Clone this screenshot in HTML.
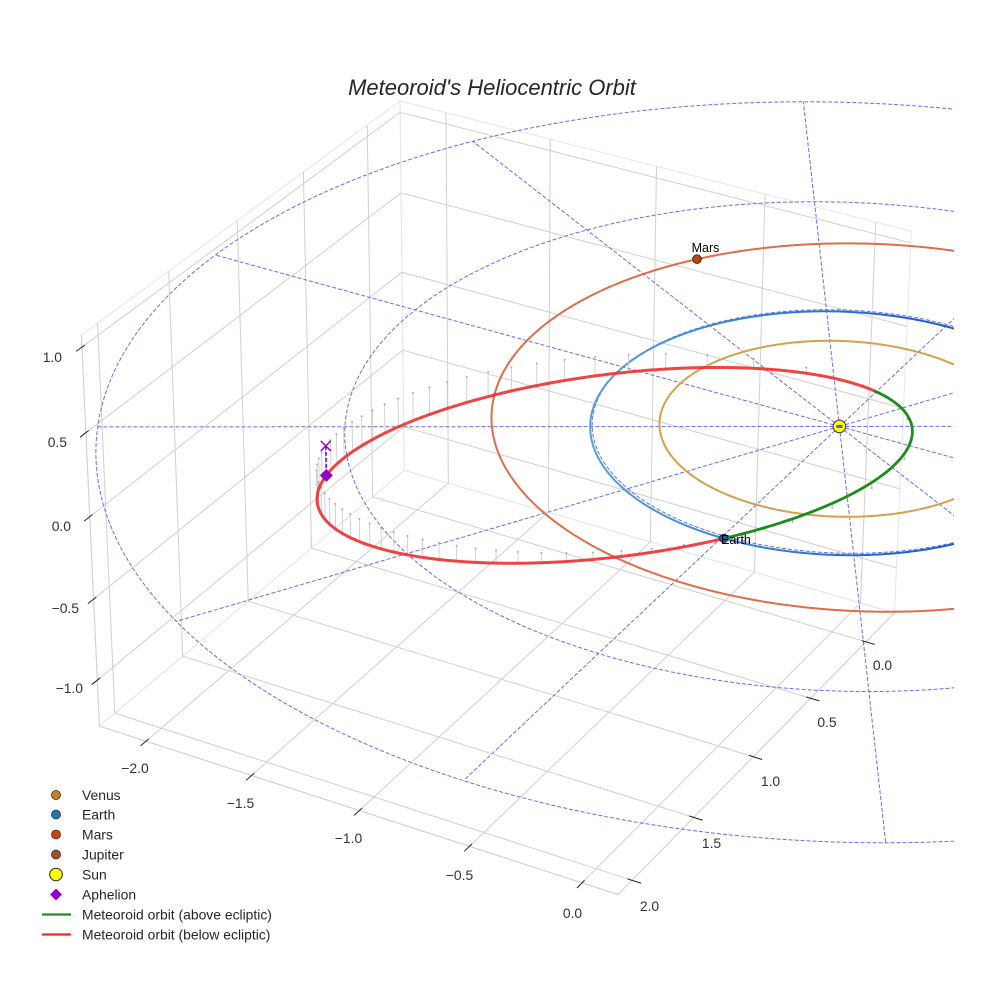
<!DOCTYPE html>
<html><head><meta charset="utf-8">
<style>
html,body{margin:0;padding:0;background:#fff;}
svg{display:block;}
text{font-family:"Liberation Sans",Arial,sans-serif;}
</style></head>
<body>
<svg id="s" width="984" height="984" viewBox="0 0 984 984" xmlns="http://www.w3.org/2000/svg">
<defs>
<clipPath id="c"><rect x="0" y="0" width="954" height="984"/></clipPath>
<linearGradient id="eg" gradientUnits="userSpaceOnUse" x1="590" y1="0" x2="930" y2="0">
<stop offset="0" stop-color="#55a2da"/>
<stop offset="0.6" stop-color="#2f7ad0"/>
<stop offset="1" stop-color="#1d5ccc"/>
</linearGradient>
</defs>
<rect x="0" y="0" width="984" height="984" fill="#fff"/>
<g id="grid"></g>
<g id="plot" clip-path="url(#c)"></g>
<g id="ticks"></g>

<text x="492" y="95" text-anchor="middle" font-size="22" font-style="italic" fill="#262626">Meteoroid's Heliocentric Orbit</text>

<g font-size="13.9" fill="#333">
<text x="62" y="362" text-anchor="end">1.0</text>
<text x="67" y="447" text-anchor="end">0.5</text>
<text x="71" y="531" text-anchor="end">0.0</text>
<text x="79" y="613" text-anchor="end">−0.5</text>
<text x="83" y="693" text-anchor="end">−1.0</text>

<text x="135" y="773" text-anchor="middle">−2.0</text>
<text x="240.5" y="808" text-anchor="middle">−1.5</text>
<text x="348.5" y="843" text-anchor="middle">−1.0</text>
<text x="459.5" y="880" text-anchor="middle">−0.5</text>
<text x="572.5" y="918" text-anchor="middle">0.0</text>

<text x="882.5" y="670" text-anchor="middle">0.0</text>
<text x="827" y="727" text-anchor="middle">0.5</text>
<text x="770.5" y="786" text-anchor="middle">1.0</text>
<text x="711.5" y="848" text-anchor="middle">1.5</text>
<text x="649.5" y="911" text-anchor="middle">2.0</text>
</g>

<g id="labels" font-size="12.5" fill="#000">
<text x="705.5" y="252" text-anchor="middle">Mars</text>
<text x="721" y="544">Earth</text>
</g>

<g id="legend">
<circle cx="56" cy="795" r="4.5" fill="#c8801e" stroke="#333" stroke-width="0.8"/>
<circle cx="56" cy="814.5" r="4.5" fill="#1f77b4" stroke="#333" stroke-width="0.8"/>
<circle cx="56" cy="834.5" r="4.5" fill="#c8441a" stroke="#333" stroke-width="0.8"/>
<circle cx="56" cy="854.5" r="4.5" fill="#a0522d" stroke="#333" stroke-width="0.8"/>
<circle cx="56" cy="874.5" r="6.3" fill="#ffff00" stroke="#222" stroke-width="1"/>
<polygon points="56,888.5 62,894.5 56,900.5 50,894.5" fill="#9400d3"/>
<line x1="42" y1="914.5" x2="71" y2="914.5" stroke="#228b22" stroke-width="2.2"/>
<line x1="42" y1="934.5" x2="71" y2="934.5" stroke="#ee2a2a" stroke-width="2.2"/>
<g font-size="13.9" fill="#262626">
<text x="82" y="800">Venus</text>
<text x="82" y="819.5">Earth</text>
<text x="82" y="839.5">Mars</text>
<text x="82" y="859.5">Jupiter</text>
<text x="82" y="879.5">Sun</text>
<text x="82" y="899.5">Aphelion</text>
<text x="82" y="919.5">Meteoroid orbit (above ecliptic)</text>
<text x="82" y="939.5">Meteoroid orbit (below ecliptic)</text>
</g>
</g>
</svg>
<script>
(function(){
const NS="http://www.w3.org/2000/svg";
const XL=[-2.224,0.158], YL=[2.111,-0.264], ZL=[-1.288,1.069];
const K=1.8294640721620434/Math.sqrt(41);
const BX=4*K, BY=4*K, BZ=3*K;
const RC=[BX/2,BY/2,BZ/2];
const el=30*Math.PI/180, az=-60*Math.PI/180;
const U=[-Math.sin(az),Math.cos(az),0];
const V=[-Math.sin(el)*Math.cos(az),-Math.sin(el)*Math.sin(az),Math.cos(el)];
const W=[Math.cos(el)*Math.cos(az),Math.cos(el)*Math.sin(az),Math.sin(el)];
const SC=5200, CX=504, CY=479.5;
function P(x,y,z){
  const n=[(x-XL[0])/(XL[1]-XL[0])*BX-RC[0],(y-YL[0])/(YL[1]-YL[0])*BY-RC[1],(z-ZL[0])/(ZL[1]-ZL[0])*BZ-RC[2]];
  const u=U[0]*n[0]+U[1]*n[1]+U[2]*n[2];
  const v=V[0]*n[0]+V[1]*n[1]+V[2]*n[2];
  const w=W[0]*n[0]+W[1]*n[1]+W[2]*n[2];
  const d=10-w;
  return [CX+SC*u/d, CY-SC*v/d];
}
function pth(pts){return pts.map((p,i)=>(i?'L':'M')+p[0].toFixed(2)+' '+p[1].toFixed(2)).join('');}
function add(parent,tag,attrs){const e=document.createElementNS(NS,tag);for(const k in attrs)e.setAttribute(k,attrs[k]);parent.appendChild(e);return e;}
function line3(parent,pts,attrs){const a=Object.assign({},attrs);a.d=pth(pts.map(p=>P(p[0],p[1],p[2])));a.fill='none';return add(parent,'path',a);}

const G=document.getElementById('grid');
const PL=document.getElementById('plot');
const T=document.getElementById('ticks');
const x0=XL[0],x1=XL[1],ymin=YL[1],ymax=YL[0],z0=ZL[0],z1=ZL[1];

// pane edges
const paneE={stroke:'#e6e6e6','stroke-width':1};
line3(G,[[x0,ymin,z0],[x1,ymin,z0],[x1,ymax,z0],[x0,ymax,z0],[x0,ymin,z0]],paneE);
line3(G,[[x0,ymin,z0],[x0,ymax,z0],[x0,ymax,z1],[x0,ymin,z1],[x0,ymin,z0]],paneE);
line3(G,[[x0,ymin,z0],[x1,ymin,z0],[x1,ymin,z1],[x0,ymin,z1],[x0,ymin,z0]],paneE);
// gridlines
const gA={stroke:'#d0d0d0','stroke-width':1};
const xt=[-2,-1.5,-1,-0.5,0], yt=[0,0.5,1,1.5,2], zt=[-1,-0.5,0,0.5,1];
xt.forEach(t=>line3(G,[[t,ymax,z0],[t,ymin,z0],[t,ymin,z1]],gA));
yt.forEach(t=>line3(G,[[x1,t,z0],[x0,t,z0],[x0,t,z1]],gA));
zt.forEach(t=>line3(G,[[x0,ymax,t],[x0,ymin,t],[x1,ymin,t]],gA));
// axis lines
const axA={stroke:'#cfcfcf','stroke-width':1};
line3(G,[[x0,ymax,z0],[x1,ymax,z0]],axA);
line3(G,[[x1,ymin,z0],[x1,ymax,z0]],axA);
line3(G,[[x0,ymax,z0],[x0,ymax,z1]],axA);
// ticks
const tk={stroke:'#222','stroke-width':1};
const dy=(ymax-ymin)/12, dx=(x1-x0)/12;
xt.forEach(t=>line3(T,[[t,ymax+0.2*dy,z0],[t,ymax-0.1*dy,z0]],tk));
zt.forEach(t=>line3(T,[[x0,ymax+0.2*dy,t],[x0,ymax-0.1*dy,t]],tk));
yt.forEach(t=>line3(T,[[x1+0.2*dx,t,z0],[x1-0.1*dx,t,z0]],tk));

// dashed reference circles and spokes
const dA={stroke:'#6b6bef','stroke-width':1,'stroke-dasharray':'4 2'};
[1,2,3].forEach(r=>{const pts=[];for(let i=0;i<=720;i++){const a=2*Math.PI*i/720;pts.push([r*Math.cos(a),r*Math.sin(a),0]);}line3(PL,pts,dA);});
for(let k=0;k<12;k++){const a=k*Math.PI/6;line3(PL,[[0,0,0],[3*Math.cos(a),3*Math.sin(a),0]],dA);}

// planet orbits
function kep(a,e,peri){const pts=[];const p=a*(1-e*e);for(let i=0;i<=720;i++){const th=2*Math.PI*i/720;const r=p/(1+e*Math.cos(th-peri));pts.push([r*Math.cos(th),r*Math.sin(th),0]);}return pts;}
const D2R=Math.PI/180;
line3(PL,kep(0.7233,0.0068,0),{stroke:'#d6a04e','stroke-width':2});
line3(PL,kep(1.0,0.0167,-90*D2R),{stroke:'url(#eg)','stroke-width':2});
line3(PL,kep(1.5237,0.0934,113*D2R),{stroke:'#de6d4b','stroke-width':2});

// meteoroid
const mq=0.285, me=0.7649, mp=mq*(1+me), mphi=-42*D2R, nu=89.4*D2R, kk=0.1045;
function met(psi){const r=mp/(1+me*Math.cos(psi-mphi));const x=r*Math.cos(psi),y=r*Math.sin(psi);const z=kk*(x*Math.sin(nu)-y*Math.cos(nu));return [x,y,z];}
// stems
const NST=60;
for(let k=0;k<NST;k++){
  const M=2*Math.PI*k/NST;let E=M;
  for(let j=0;j<30;j++){E=E-(E-me*Math.sin(E)-M)/(1-me*Math.cos(E));}
  const th=2*Math.atan2(Math.sqrt(1+me)*Math.sin(E/2),Math.sqrt(1-me)*Math.cos(E/2));
  const p=met(th+mphi);
  line3(PL,[[p[0],p[1],p[2]],[p[0],p[1],0]],{stroke:'#c8c8c8','stroke-width':0.8});
  const q=P(p[0],p[1],0);
  add(PL,'circle',{cx:q[0].toFixed(2),cy:q[1].toFixed(2),r:1,fill:'#aaaaaa'});
}
// orbit segments
const NS2=1440;let runs=[];let cur=null;let curSign=null;
for(let i=0;i<=NS2;i++){
  const psi=2*Math.PI*i/NS2;const p=met(psi);const s=p[2]<0?'r':'g';
  if(s!==curSign){ if(cur){cur.pts.push(p);runs.push(cur);} cur={s:s,pts:cur?[cur.pts[cur.pts.length-2]||p,p]:[p]};curSign=s;}
  else cur.pts.push(p);
}
runs.push(cur);
runs.forEach(r=>{line3(PL,r.pts,r.s==='r'?{stroke:'#ee2a2a','stroke-width':3,'stroke-opacity':0.88,'stroke-linecap':'round'}:{stroke:'#1c8c1c','stroke-width':2.8,'stroke-linecap':'round'});});

// aphelion marker & projection
const ap=met(145.7*D2R);
const A3=P(ap[0],ap[1],ap[2]), A0=P(ap[0],ap[1],0);
add(PL,'line',{x1:A0[0],y1:A0[1],x2:A3[0],y2:A3[1],stroke:'#9400d3','stroke-width':1.6,'stroke-dasharray':'4 2'});
add(PL,'path',{d:'M'+(A0[0]-5)+' '+(A0[1]-5)+'L'+(A0[0]+5)+' '+(A0[1]+5)+'M'+(A0[0]-5)+' '+(A0[1]+5)+'L'+(A0[0]+5)+' '+(A0[1]-5),stroke:'#9400d3','stroke-width':1.5,fill:'none'});
add(PL,'polygon',{points:[[A3[0],A3[1]-6.5],[A3[0]+6.5,A3[1]],[A3[0],A3[1]+6.5],[A3[0]-6.5,A3[1]]].map(p=>p.join(',')).join(' '),fill:'#9400d3'});

// Mars
(function(){const a=1.5237,e=0.0934,pe=113*D2R,th=220*D2R;const r=a*(1-e*e)/(1+e*Math.cos(th-pe));const m=P(r*Math.cos(th),r*Math.sin(th),0);add(PL,'circle',{cx:m[0],cy:m[1],r:4.3,fill:'#c1440e',stroke:'#222','stroke-width':0.9});})();
// Earth
(function(){const th=89.4*D2R;const r=1.0167;const m=P(r*Math.cos(th),r*Math.sin(th),0);add(PL,'circle',{cx:m[0],cy:m[1],r:4.2,fill:'#1f5aa8',stroke:'#222','stroke-width':0.9});})();
// Sun
(function(){const s=P(0,0,0);add(PL,'circle',{cx:s[0],cy:s[1],r:6.3,fill:'#ffff00',stroke:'#333','stroke-width':1});add(PL,'rect',{x:s[0]-3,y:s[1]-1.5,width:6,height:3,fill:'#5a5ad8'});})();
})();
</script>
</body></html>
